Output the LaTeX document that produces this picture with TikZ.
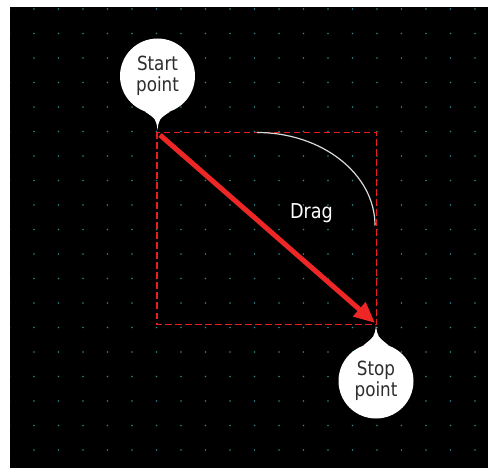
\documentclass[tikz,border=0pt]{standalone}
\usepackage{fontspec}
\setmainfont{DejaVu Sans}[FakeStretch=0.86]
\usetikzlibrary{arrows.meta, calc}
\definecolor{dotteal}{RGB}{45,135,140}
\definecolor{dragred}{RGB}{238,38,38}
\definecolor{boxred}{RGB}{235,30,30}
\definecolor{bubbletext}{RGB}{45,45,45}
\begin{document}
\begin{tikzpicture}[x=1pt, y=-1pt,
        callout/.style={circle, fill=white, minimum size=75pt, inner sep=0pt, align=center, text=bubbletext, font=\fontsize{19.5}{20.5}\selectfont},
        dragline/.style={draw=dragred, line width=5pt, -{Triangle[length=21pt, width=18pt]}},
        guidebox/.style={draw=boxred, dash pattern=on 6.5pt off 3.5pt, line width=1.4pt},
        sweep/.style={draw=white!85!black, line width=1.2pt}]
    \useasboundingbox (0,0) rectangle (488,468);
    \fill[black] (10,7) rectangle (488,468);
    \begin{scope}
        \clip (10,7) rectangle (488,468);
        \foreach \i in {0,...,19}
            \foreach \j in {0,...,18}
                \fill[dotteal] (9.5+24.5*\i, 9+24.5*\j) circle (0.8pt);
    \end{scope}
    \coordinate (boxnw) at (157,132.5);
    \coordinate (boxse) at (376.5,324.5);
    \coordinate (dragfrom) at (160,135);
    \coordinate (dragto) at (375,323);
    \coordinate (starttip) at (157.5,130);
    \coordinate (stoptip) at (376,325.5);
    \draw[guidebox] (boxnw) rectangle (boxse);
    \draw[sweep] (257,132.5) arc[start angle=-90, end angle=0, x radius=118, y radius=93];
    \node[text=white, font=\fontsize{20.5}{20.5}\selectfont, anchor=base] (dragtxt) at (311.5,219) {Drag};
    \draw[dragline] (dragfrom) -- (dragto);
    \node[callout] (startpt) at (157.5,76) {Start\\point};
    \fill[white] (startpt.250) .. controls ($(starttip)+(-1.5,-11)$) .. (starttip)
        .. controls ($(starttip)+(1.5,-11)$) .. (startpt.290) -- cycle;
    \node[callout] (stoppt) at (376,381) {Stop\\point};
    \fill[white] (stoppt.70) .. controls ($(stoptip)+(1.5,11)$) .. (stoptip)
        .. controls ($(stoptip)+(-1.5,11)$) .. (stoppt.110) -- cycle;
\end{tikzpicture}
\end{document}
